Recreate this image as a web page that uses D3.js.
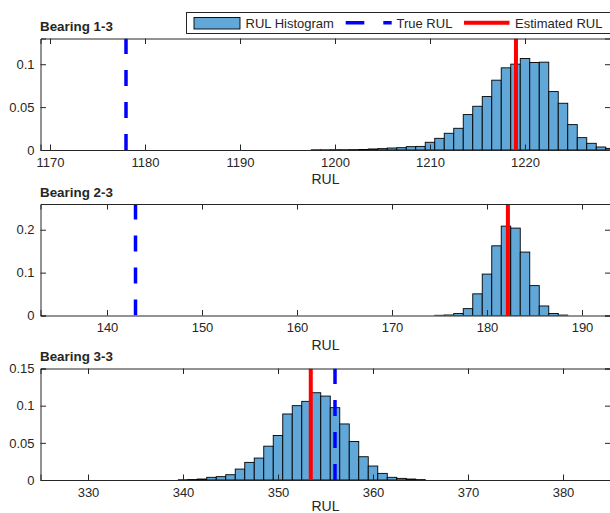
<!DOCTYPE html>
<html>
<head>
<meta charset="utf-8">
<script src="https://cdn.jsdelivr.net/npm/d3@7"></script>
<style>
  body { margin: 0; background: #fff; }
  svg text { font-family: "Liberation Sans", Arial, Helvetica, sans-serif; fill: #262626; }
</style>
</head>
<body>
<div id="chart"></div>
<script>
// ---- data ----
var titles = ["Bearing 1-3", "Bearing 2-3", "Bearing 3-3"];

var bins1 = [1198, 1199, 1200, 1201, 1202, 1203, 1204, 1205, 1206, 1207, 1208, 1209, 1210,
             1211, 1212, 1213, 1214, 1215, 1216, 1217, 1218, 1219, 1220, 1221, 1222, 1223,
             1224, 1225, 1226, 1227, 1228, 1229];
var hist1 = [0.0002, 0.0002, 0.0003, 0.0003, 0.0004, 0.0006, 0.0012, 0.0016, 0.0023, 0.0027,
             0.0039, 0.0042, 0.0090, 0.0136, 0.0195, 0.0253, 0.0413, 0.0510, 0.0623, 0.0814,
             0.0958, 0.1001, 0.1067, 0.1020, 0.1024, 0.0681, 0.0545, 0.0296, 0.0144, 0.0078,
             0.0035, 0.0019];

var bins2 = [175, 176, 177, 178, 179, 180, 181, 182, 183, 184, 185, 186, 187, 188];
var hist2 = [0.0005, 0.0012, 0.0045, 0.0160, 0.0505, 0.0966, 0.1625, 0.2084, 0.2038, 0.1479,
             0.0697, 0.0222, 0.0046, 0.0010];

var bins3 = [340, 341, 342, 343, 344, 345, 346, 347, 348, 349, 350, 351, 352, 353, 354, 355,
             356, 357, 358, 359, 360, 361, 362, 363, 364, 365];
var hist3 = [0.0003, 0.0006, 0.0013, 0.0036, 0.0045, 0.0071, 0.0147, 0.0237, 0.0295, 0.0455,
             0.0598, 0.0888, 0.1000, 0.1058, 0.1174, 0.1129, 0.0973, 0.0754, 0.0518, 0.0313,
             0.0188, 0.0089, 0.0036, 0.0022, 0.0013, 0.0005];

var trueRUL = [1178, 143, 356];
var estRUL = [1219.05, 182.2, 353.45];

var xDomains = [[1169, 1229], [133, 193], [325, 385]];
var yDomains = [[0, 0.13], [0, 0.26], [0, 0.15]];
var xTicks = [[1170, 1180, 1190, 1200, 1210, 1220], [140, 150, 160, 170, 180, 190],
              [330, 340, 350, 360, 370, 380]];
var yTicks = [[0, 0.05, 0.1], [0, 0.1, 0.2], [0, 0.05, 0.1, 0.15]];

var legendLabels = ["RUL Histogram", "True RUL", "Estimated RUL"];

// ---- layout ----
var width = 610, height = 513;
var plotLeft = 40.5, plotRight = 610.5, plotH = 111.5;
var plotTops = [38.5, 204, 368.5];
var xLabelOffsets = [34, 34, 30.5];
var barFill = "#61a8d9";
var axisColor = "#262626";

var svg = d3.select("#chart").append("svg")
    .attr("width", width)
    .attr("height", height);

var panels = [
    {bins: bins1, hist: hist1},
    {bins: bins2, hist: hist2},
    {bins: bins3, hist: hist3}
];

panels.forEach(function (p, i) {
    var top = plotTops[i];
    var x = d3.scaleLinear().domain(xDomains[i]).range([plotLeft, plotRight]);
    var y = d3.scaleLinear().domain(yDomains[i]).range([top + plotH, top]);

    var clipId = "clip" + i;
    svg.append("clipPath").attr("id", clipId)
        .append("rect")
        .attr("x", plotLeft).attr("y", top)
        .attr("width", plotRight - plotLeft).attr("height", plotH);

    var g = svg.append("g").attr("clip-path", "url(#" + clipId + ")");

    // histogram bars
    g.selectAll("rect.bar")
        .data(p.bins.map(function (b, k) { return {bin: b, v: p.hist[k]}; }))
        .enter()
        .append("rect")
        .attr("class", "bar")
        .attr("x", function (d) { return x(d.bin - 0.5); })
        .attr("width", function (d) { return x(d.bin + 0.5) - x(d.bin - 0.5); })
        .attr("y", function (d) { return y(d.v); })
        .attr("height", function (d) { return y(0) - y(d.v); })
        .attr("fill", barFill)
        .attr("stroke", "#000")
        .attr("stroke-width", 0.9);

    // true RUL (dashed blue), drawn from bottom up
    g.append("line")
        .attr("x1", x(trueRUL[i])).attr("x2", x(trueRUL[i]))
        .attr("y1", y(0)).attr("y2", top)
        .attr("stroke", "#0000ff")
        .attr("stroke-width", 3.5)
        .attr("stroke-dasharray", "16,16");

    // estimated RUL (solid red)
    g.append("line")
        .attr("x1", x(estRUL[i])).attr("x2", x(estRUL[i]))
        .attr("y1", y(0)).attr("y2", top)
        .attr("stroke", "#ff0000")
        .attr("stroke-width", 4);

    // axes, ticks inside, box on
    var bottomAxis = d3.axisBottom(x).tickValues(xTicks[i]).tickSize(-5.5).tickPadding(7.5)
        .tickFormat(d3.format("d"));
    var topAxis = d3.axisTop(x).tickValues(xTicks[i]).tickSize(-5.5).tickFormat("");
    var leftAxis = d3.axisLeft(y).tickValues(yTicks[i]).tickSize(-5.5).tickPadding(6)
        .tickFormat(function (d) { return d === 0 ? "0" : String(+d.toFixed(2)); });
    var rightAxis = d3.axisRight(y).tickValues(yTicks[i]).tickSize(-5.5).tickFormat("");

    var axes = [
        svg.append("g").attr("transform", "translate(0," + (top + plotH) + ")").call(bottomAxis),
        svg.append("g").attr("transform", "translate(0," + top + ")").call(topAxis),
        svg.append("g").attr("transform", "translate(" + plotLeft + ",0)").call(leftAxis),
        svg.append("g").attr("transform", "translate(" + plotRight + ",0)").call(rightAxis)
    ];
    axes.forEach(function (a) {
        a.selectAll("path").attr("stroke", axisColor).attr("stroke-width", 1);
        a.selectAll("line").attr("stroke", axisColor).attr("stroke-width", 1);
        a.selectAll("text").attr("font-size", 13).attr("fill", axisColor)
            .style("font-family", "'Liberation Sans', Arial, Helvetica, sans-serif");
    });

    // x label
    svg.append("text")
        .attr("x", (plotLeft + plotRight) / 2)
        .attr("y", top + plotH + xLabelOffsets[i])
        .attr("text-anchor", "middle")
        .attr("font-size", 14)
        .text("RUL");

    // title
    svg.append("text")
        .attr("x", plotLeft - 0.5)
        .attr("y", top - 7.5)
        .attr("font-size", 13.4)
        .attr("font-weight", "bold")
        .attr("fill", "#000")
        .text(titles[i]);
});

// ---- legend ----
var lg = svg.append("g").attr("class", "legend");
lg.append("rect")
    .attr("x", 186.5).attr("y", 12.5)
    .attr("width", 440).attr("height", 21)
    .attr("fill", "#fff")
    .attr("stroke", axisColor)
    .attr("stroke-width", 1);
lg.append("rect")
    .attr("x", 194).attr("y", 17.5)
    .attr("width", 46).attr("height", 11.5)
    .attr("fill", barFill)
    .attr("stroke", "#000")
    .attr("stroke-width", 0.9);
lg.append("text").attr("x", 245.5).attr("y", 27.5).attr("font-size", 13).text(legendLabels[0]);
lg.append("line")
    .attr("x1", 345.7).attr("x2", 391.7).attr("y1", 22.8).attr("y2", 22.8)
    .attr("stroke", "#0000ff").attr("stroke-width", 3.5)
    .attr("stroke-dasharray", "18.6,19");
lg.append("text").attr("x", 396.5).attr("y", 27.5).attr("font-size", 13).text(legendLabels[1]);
lg.append("line")
    .attr("x1", 464).attr("x2", 509.5).attr("y1", 22.8).attr("y2", 22.8)
    .attr("stroke", "#ff0000").attr("stroke-width", 4);
lg.append("text").attr("x", 515).attr("y", 27.5).attr("font-size", 13).text(legendLabels[2]);
</script>
</body>
</html>
